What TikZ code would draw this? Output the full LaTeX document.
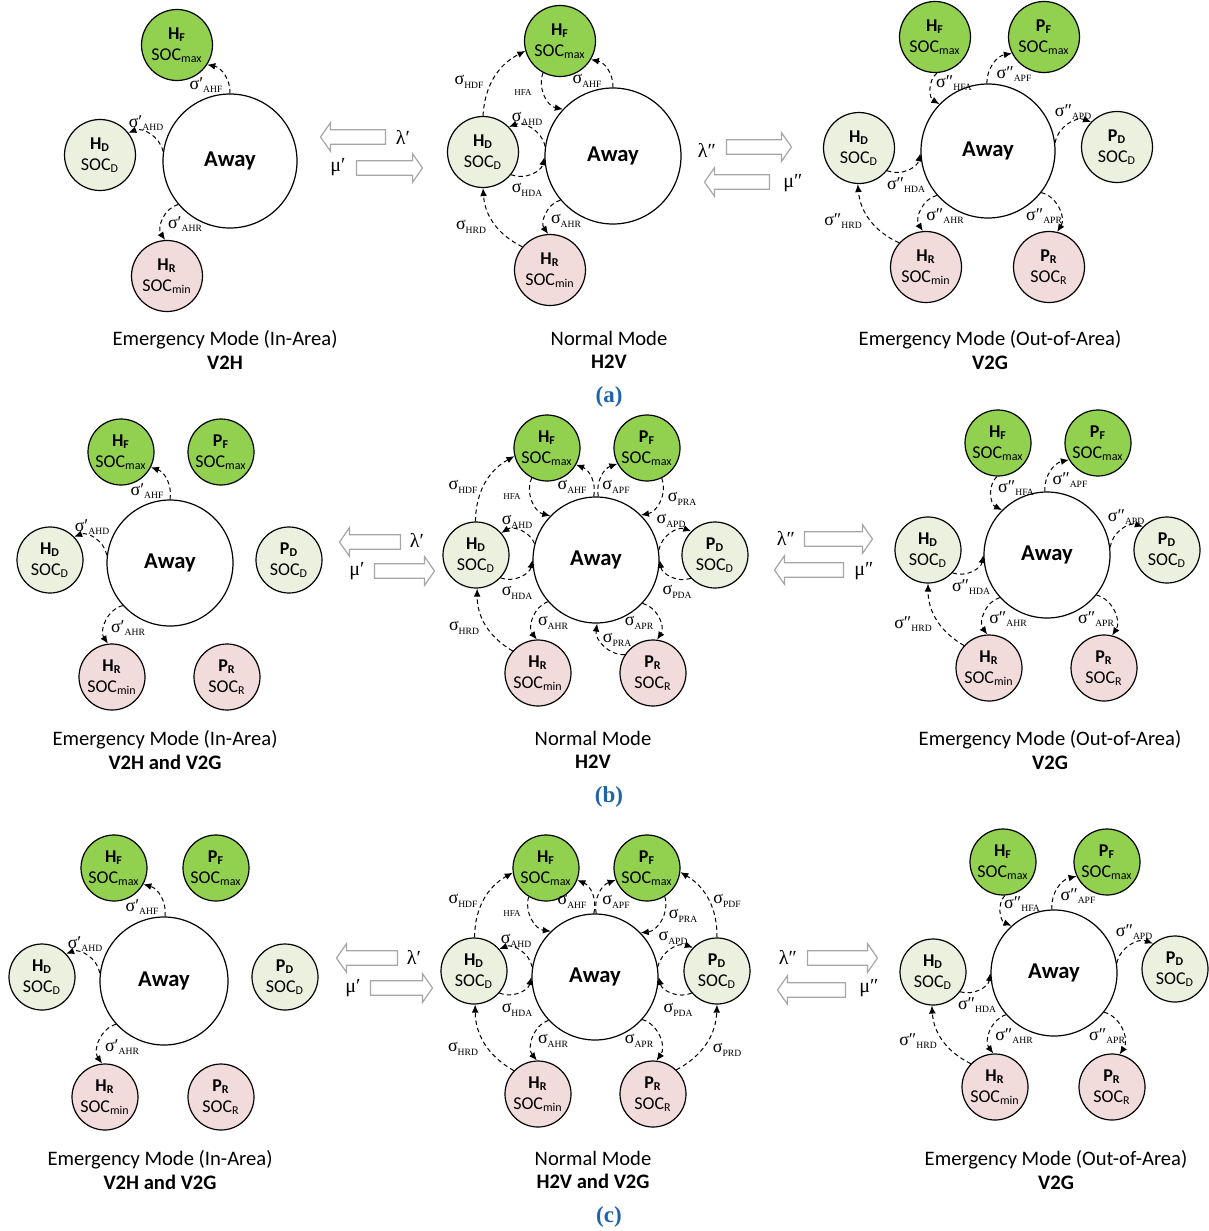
\documentclass[tikz,border=0pt]{standalone}
\usepackage{fontspec}
\setmainfont{Carlito}
\newfontfamily\tnr{Liberation Serif}
\usetikzlibrary{arrows.meta,shapes.arrows}

\definecolor{socgreen}{RGB}{146,208,80}
\definecolor{socpale}{RGB}{235,241,222}
\definecolor{socpink}{RGB}{242,220,219}
\definecolor{capblue}{RGB}{31,100,170}

\newcommand{\rate}[2]{σ#1\raisebox{-0.45ex}{\fontsize{4.8}{5}\selectfont #2}}
\newcommand{\st}[3]{\textbf{#1\textsubscript{#2}}\\SOC\textsubscript{#3}}

\tikzset{
	awaynode/.style={circle, draw, line width=0.6pt, fill=white, inner sep=0pt, font=\fontsize{11.3}{13}\selectfont\bfseries},
	statenode/.style={circle, draw, line width=0.6pt, inner sep=0pt, align=center, font=\fontsize{9}{10.5}\selectfont},
	socfull/.style={statenode, fill=socgreen},
	socpart/.style={statenode, fill=socpale},
	soclow/.style={statenode, fill=socpink},
	rowa/.style={minimum size=35.5pt},
	rowbc/.style={minimum size=33pt},
	flowline/.style={line width=0.5pt, dash pattern=on 2.2pt off 1.6pt, -{Latex[length=4pt,width=3.4pt]}},
	ratelbl/.style={inner sep=0pt, font=\tnr\fontsize{9}{10}\selectfont},
	tinylbl/.style={inner sep=0pt, font=\tnr\fontsize{4.5}{5}\selectfont},
	modelbl/.style={inner sep=0pt, font=\tnr\fontsize{10}{11}\selectfont},
	modearrow/.style={single arrow, draw=black!35, line width=0.6pt, fill=white, inner sep=0pt, inner ysep=3.3pt, single arrow head extend=3.6pt, single arrow tip angle=110},
	caption/.style={align=center, inner sep=0pt, font=\fontsize{10.3}{11.6}\selectfont},
	sublbl/.style={inner sep=0pt, text=capblue, font=\tnr\fontsize{11.5}{12}\selectfont\bfseries}
}

\begin{document}
\begin{tikzpicture}[x=0.5pt,y=-0.5pt]
	\useasboundingbox (0,0) rectangle (1209,1231);

	% (a) emergency, in-area
	\node[awaynode, minimum size=67pt] (a1aw) at (230,161) {Away};
	\node[socfull,rowa] (a1hf) at (177,45) {\st{H}{F}{max}};
	\node[socpart,rowa] (a1hd) at (100,155) {\st{H}{D}{D}};
	\node[soclow,rowa] (a1hr) at (167,276) {\st{H}{R}{min}};
	\draw[flowline] (a1aw.90) to[bend right=40] (a1hf.-33);
	\draw[flowline] (a1aw.172) to[bend right=50] (a1hd.38);
	\draw[flowline] (a1aw.-140) to[bend right=55] (a1hr.93);
	\node[ratelbl] (a1l1) at (206,85) {\rate{′}{AHF}};
	\node[ratelbl] (a1l2) at (146,123) {\rate{′}{AHD}};
	\node[ratelbl] (a1l3) at (185,224) {\rate{′}{AHR}};
	\node[caption] (a1cap) at (225,350) {Emergency Mode (In-Area)\\\textbf{V2H}};

	% (a) normal
	\node[awaynode, minimum size=68pt] (a2aw) at (613,156) {Away};
	\node[socfull,rowa] (a2hf) at (560,41) {\st{H}{F}{max}};
	\node[socpart,rowa] (a2hd) at (483,152) {\st{H}{D}{D}};
	\node[soclow,rowa] (a2hr) at (550,270) {\st{H}{R}{min}};
	\draw[flowline] (a2hd.90) to[bend left=30] (a2hf.196);
	\draw[flowline] (a2hf.-118) to[bend right=50] (a2aw.137);
	\draw[flowline] (a2aw.90) to[bend right=40] (a2hf.-31);
	\draw[flowline] (a2aw.172) to[bend right=50] (a2hd.44);
	\draw[flowline] (a2hd.-39) to[bend right=50] (a2aw.181);
	\draw[flowline] (a2hr.140) to[bend left=30] (a2hd.-90);
	\draw[flowline] (a2aw.-140) to[bend right=55] (a2hr.93);
	\node[ratelbl] (a2l1) at (469,82) {\rate{}{HDF}};
	\node[tinylbl] (a2l2) at (523,93) {HFA};
	\node[ratelbl] (a2l3) at (587,81) {\rate{}{AHF}};
	\node[ratelbl] (a2l4) at (527,119) {\rate{}{AHD}};
	\node[ratelbl] (a2l5) at (527,190) {\rate{}{HDA}};
	\node[ratelbl] (a2l6) at (471,227) {\rate{}{HRD}};
	\node[ratelbl] (a2l7) at (566,221) {\rate{}{AHR}};
	\node[caption] (a2cap) at (609,350) {Normal Mode\\\textbf{H2V}};

	% (a) emergency, out-of-area
	\node[awaynode, minimum size=67pt] (a3aw) at (988,151) {Away};
	\node[socfull,rowa] (a3hf) at (935,37) {\st{H}{F}{max}};
	\node[socfull,rowa] (a3pf) at (1044,37) {\st{P}{F}{max}};
	\node[socpart,rowa] (a3hd) at (859,148) {\st{H}{D}{D}};
	\node[socpart,rowa] (a3pd) at (1117,147) {\st{P}{D}{D}};
	\node[soclow,rowa] (a3hr) at (926,267) {\st{H}{R}{min}};
	\node[soclow,rowa] (a3pr) at (1049,267) {\st{P}{R}{R}};
	\draw[flowline] (a3hf.-87) to[bend right=55] (a3aw.136);
	\draw[flowline] (a3aw.91) to[bend left=40] (a3pf.207);
	\draw[flowline] (a3aw.7) to[bend left=50] (a3pd.136);
	\draw[flowline] (a3hd.-39) to[bend right=50] (a3aw.182);
	\draw[flowline] (a3hr.138) to[bend left=30] (a3hd.-92);
	\draw[flowline] (a3aw.-139) to[bend right=55] (a3hr.95);
	\draw[flowline] (a3aw.-38) to[bend left=55] (a3pr.77);
	\node[ratelbl] (a3l1) at (954,83) {\rate{″}{HFA}};
	\node[ratelbl] (a3l2) at (1014,74) {\rate{″}{APF}};
	\node[ratelbl] (a3l3) at (1073,112) {\rate{″}{APD}};
	\node[ratelbl] (a3l4) at (906,185) {\rate{″}{HDA}};
	\node[ratelbl] (a3l5) at (843,221) {\rate{″}{HRD}};
	\node[ratelbl] (a3l6) at (945,216) {\rate{″}{AHR}};
	\node[ratelbl] (a3l7) at (1044,216) {\rate{″}{APR}};
	\node[caption] (a3cap) at (990,350) {Emergency Mode (Out-of-Area)\\\textbf{V2G}};

	% mode changes (a)
	\node[modearrow, shape border rotate=180, minimum height=32.5pt] (a12back) at (355.5,137) {};
	\node[modearrow, minimum height=33pt] (a12fwd) at (387,168) {};
	\node[modelbl] (a12lam) at (403,137) {λ′};
	\node[modelbl] (a12mu) at (338,167) {μ′};
	\node[modearrow, minimum height=32.5pt] (a23fwd) at (756.5,147) {};
	\node[modearrow, shape border rotate=180, minimum height=32.5pt] (a23back) at (739.5,182) {};
	\node[modelbl] (a23lam) at (707,150) {λ″};
	\node[modelbl] (a23mu) at (793,183) {μ″};
	\node[sublbl] (capa) at (609,397) {(a)};

	% (b) emergency, in-area
	\node[awaynode, minimum size=63pt] (b1aw) at (170,563) {Away};
	\node[socfull,rowbc] (b1hf) at (121,452) {\st{H}{F}{max}};
	\node[socfull,rowbc] (b1pf) at (221,452) {\st{P}{F}{max}};
	\node[socpart,rowbc] (b1hd) at (50,560) {\st{H}{D}{D}};
	\node[socpart,rowbc] (b1pd) at (289,560) {\st{P}{D}{D}};
	\node[soclow,rowbc] (b1hr) at (112,677) {\st{H}{R}{min}};
	\node[soclow,rowbc] (b1pr) at (227,677) {\st{P}{R}{R}};
	\draw[flowline] (b1aw.90) to[bend right=40] (b1hf.-27);
	\draw[flowline] (b1aw.173) to[bend right=50] (b1hd.44);
	\draw[flowline] (b1aw.-138) to[bend right=55] (b1hr.97);
	\node[ratelbl] (b1l1) at (147,491) {\rate{′}{AHF}};
	\node[ratelbl] (b1l2) at (92,527) {\rate{′}{AHD}};
	\node[ratelbl] (b1l3) at (128,628) {\rate{′}{AHR}};
	\node[caption] (b1cap) at (165,750) {Emergency Mode (In-Area)\\\textbf{V2H and V2G}};

	% (b) normal
	\node[awaynode, minimum size=63pt] (b2aw) at (596,560) {Away};
	\node[socfull,rowbc] (b2hf) at (547,448) {\st{H}{F}{max}};
	\node[socfull,rowbc] (b2pf) at (647,448) {\st{P}{F}{max}};
	\node[socpart,rowbc] (b2hd) at (476,555) {\st{H}{D}{D}};
	\node[socpart,rowbc] (b2pd) at (715,555) {\st{P}{D}{D}};
	\node[soclow,rowbc] (b2hr) at (538,673) {\st{H}{R}{min}};
	\node[soclow,rowbc] (b2pr) at (653,673) {\st{P}{R}{R}};
	\draw[flowline] (b2hd.91) to[bend left=30] (b2hf.194);
	\draw[flowline] (b2hf.-117) to[bend right=50] (b2aw.136);
	\draw[flowline] (b2aw.92) to[bend right=40] (b2hf.-30);
	\draw[flowline] (b2aw.88) to[bend left=40] (b2pf.208);
	\draw[flowline] (b2pf.-64) to[bend left=50] (b2aw.45);
	\draw[flowline] (b2aw.165) to[bend right=50] (b2hd.41);
	\draw[flowline] (b2hd.-43) to[bend right=50] (b2aw.180);
	\draw[flowline] (b2aw.9) to[bend left=50] (b2pd.135);
	\draw[flowline] (b2pd.-136) to[bend left=50] (b2aw.0);
	\draw[flowline] (b2hr.139) to[bend left=30] (b2hd.-88);
	\draw[flowline] (b2aw.-139) to[bend right=55] (b2hr.92);
	\draw[flowline] (b2aw.-43) to[bend left=55] (b2pr.83);
	\draw[flowline] (b2pr.147) to[bend left=50] (b2aw.-89);
	\node[ratelbl] (b2l1) at (463,487) {\rate{}{HDF}};
	\node[tinylbl] (b2l2) at (512,497) {HFA};
	\node[ratelbl] (b2l3) at (572,487) {\rate{}{AHF}};
	\node[ratelbl] (b2l4) at (616,487) {\rate{}{APF}};
	\node[ratelbl] (b2l5) at (682,499) {\rate{}{PRA}};
	\node[ratelbl] (b2l6) at (517,522) {\rate{}{AHD}};
	\node[ratelbl] (b2l7) at (517,593) {\rate{}{HDA}};
	\node[ratelbl] (b2l8) at (671,521) {\rate{}{APD}};
	\node[ratelbl] (b2l9) at (677,592) {\rate{}{PDA}};
	\node[ratelbl] (b2l10) at (464,628) {\rate{}{HRD}};
	\node[ratelbl] (b2l11) at (553,623) {\rate{}{AHR}};
	\node[ratelbl] (b2l12) at (639,623) {\rate{}{APR}};
	\node[ratelbl] (b2l13) at (617,640) {\rate{}{PRA}};
	\node[caption] (b2cap) at (593,750) {Normal Mode\\\textbf{H2V}};

	% (b) emergency, out-of-area
	\node[awaynode, minimum size=63pt] (b3aw) at (1047,555) {Away};
	\node[socfull,rowbc] (b3hf) at (998,443) {\st{H}{F}{max}};
	\node[socfull,rowbc] (b3pf) at (1098,443) {\st{P}{F}{max}};
	\node[socpart,rowbc] (b3hd) at (928,550) {\st{H}{D}{D}};
	\node[socpart,rowbc] (b3pd) at (1167,550) {\st{P}{D}{D}};
	\node[soclow,rowbc] (b3hr) at (989,668) {\st{H}{R}{min}};
	\node[soclow,rowbc] (b3pr) at (1104,668) {\st{P}{R}{R}};
	\draw[flowline] (b3hf.-92) to[bend right=55] (b3aw.135);
	\draw[flowline] (b3aw.92) to[bend left=40] (b3pf.210);
	\draw[flowline] (b3aw.7) to[bend left=50] (b3pd.136);
	\draw[flowline] (b3hd.-43) to[bend right=50] (b3aw.180);
	\draw[flowline] (b3hr.138) to[bend left=30] (b3hd.-90);
	\draw[flowline] (b3aw.-138) to[bend right=55] (b3hr.93);
	\draw[flowline] (b3aw.-39) to[bend left=55] (b3pr.76);
	\node[ratelbl] (b3l1) at (1016,488) {\rate{″}{HFA}};
	\node[ratelbl] (b3l2) at (1070,480) {\rate{″}{APF}};
	\node[ratelbl] (b3l3) at (1126,517) {\rate{″}{APD}};
	\node[ratelbl] (b3l4) at (971,587) {\rate{″}{HDA}};
	\node[ratelbl] (b3l5) at (913,624) {\rate{″}{HRD}};
	\node[ratelbl] (b3l6) at (1008,619) {\rate{″}{AHR}};
	\node[ratelbl] (b3l7) at (1096,619) {\rate{″}{APR}};
	\node[caption] (b3cap) at (1050,750) {Emergency Mode (Out-of-Area)\\\textbf{V2G}};

	% mode changes (b)
	\node[modearrow, shape border rotate=180, minimum height=30.5pt] (b12back) at (372.5,542) {};
	\node[modearrow, minimum height=30pt] (b12fwd) at (402,571) {};
	\node[modelbl] (b12lam) at (417,540) {λ′};
	\node[modelbl] (b12mu) at (357,571) {μ′};
	\node[modearrow, minimum height=34pt] (b23fwd) at (836,539) {};
	\node[modearrow, shape border rotate=180, minimum height=34.5pt] (b23back) at (811.5,570) {};
	\node[modelbl] (b23lam) at (786,538) {λ″};
	\node[modelbl] (b23mu) at (864,571) {μ″};
	\node[sublbl] (capb) at (609,797) {(b)};

	% (c) emergency, in-area
	\node[awaynode, minimum size=64pt] (c1aw) at (164,981) {Away};
	\node[socfull,rowbc] (c1hf) at (114,868) {\st{H}{F}{max}};
	\node[socfull,rowbc] (c1pf) at (216,868) {\st{P}{F}{max}};
	\node[socpart,rowbc] (c1hd) at (42,977) {\st{H}{D}{D}};
	\node[socpart,rowbc] (c1pd) at (285,977) {\st{P}{D}{D}};
	\node[soclow,rowbc] (c1hr) at (105,1097) {\st{H}{R}{min}};
	\node[soclow,rowbc] (c1pr) at (221,1097) {\st{P}{R}{R}};
	\draw[flowline] (c1aw.89) to[bend right=40] (c1hf.-29);
	\draw[flowline] (c1aw.173) to[bend right=50] (c1hd.44);
	\draw[flowline] (c1aw.-138) to[bend right=55] (c1hr.95);
	\node[ratelbl] (c1l1) at (142,907) {\rate{′}{AHF}};
	\node[ratelbl] (c1l2) at (85,944) {\rate{′}{AHD}};
	\node[ratelbl] (c1l3) at (122,1047) {\rate{′}{AHR}};
	\node[caption] (c1cap) at (160,1170) {Emergency Mode (In-Area)\\\textbf{V2H and V2G}};

	% (c) normal
	\node[awaynode, minimum size=63pt] (c2aw) at (595,977) {Away};
	\node[socfull,rowbc] (c2hf) at (546,868) {\st{H}{F}{max}};
	\node[socfull,rowbc] (c2pf) at (647,868) {\st{P}{F}{max}};
	\node[socpart,rowbc] (c2hd) at (474,971) {\st{H}{D}{D}};
	\node[socpart,rowbc] (c2pd) at (717,971) {\st{P}{D}{D}};
	\node[soclow,rowbc] (c2hr) at (538,1094) {\st{H}{R}{min}};
	\node[soclow,rowbc] (c2pr) at (653,1094) {\st{P}{R}{R}};
	\draw[flowline] (c2hd.89) to[bend left=30] (c2hf.188);
	\draw[flowline] (c2hf.-121) to[bend right=50] (c2aw.134);
	\draw[flowline] (c2aw.91) to[bend right=40] (c2hf.-21);
	\draw[flowline] (c2aw.89) to[bend left=40] (c2pf.201);
	\draw[flowline] (c2pf.-58) to[bend left=50] (c2aw.44);
	\draw[flowline] (c2pd.90) to[bend right=30] (c2pf.-7);
	\draw[flowline] (c2aw.171) to[bend right=50] (c2hd.41);
	\draw[flowline] (c2hd.-41) to[bend right=50] (c2aw.180);
	\draw[flowline] (c2aw.9) to[bend left=50] (c2pd.136);
	\draw[flowline] (c2pd.-139) to[bend left=50] (c2aw.0);
	\draw[flowline] (c2hr.136) to[bend left=30] (c2hd.-88);
	\draw[flowline] (c2aw.-137) to[bend right=55] (c2hr.92);
	\draw[flowline] (c2aw.-42) to[bend left=55] (c2pr.84);
	\draw[flowline] (c2pr.46) to[bend right=30] (c2pd.-90);
	\node[ratelbl] (c2l1) at (463,901) {\rate{}{HDF}};
	\node[tinylbl] (c2l2) at (512,914) {HFA};
	\node[ratelbl] (c2l3) at (572,902) {\rate{}{AHF}};
	\node[ratelbl] (c2l4) at (616,902) {\rate{}{APF}};
	\node[ratelbl] (c2l5) at (683,916) {\rate{}{PRA}};
	\node[ratelbl] (c2l6) at (727,901) {\rate{}{PDF}};
	\node[ratelbl] (c2l7) at (516,941) {\rate{}{AHD}};
	\node[ratelbl] (c2l8) at (517,1010) {\rate{}{HDA}};
	\node[ratelbl] (c2l9) at (673,938) {\rate{}{APD}};
	\node[ratelbl] (c2l10) at (678,1010) {\rate{}{PDA}};
	\node[ratelbl] (c2l11) at (463,1049) {\rate{}{HRD}};
	\node[ratelbl] (c2l12) at (553,1041) {\rate{}{AHR}};
	\node[ratelbl] (c2l13) at (639,1041) {\rate{}{APR}};
	\node[ratelbl] (c2l14) at (727,1050) {\rate{}{PRD}};
	\node[caption] (c2cap) at (593,1170) {Normal Mode\\\textbf{H2V and V2G}};

	% (c) emergency, out-of-area
	\node[awaynode, minimum size=63pt] (c3aw) at (1054,973) {Away};
	\node[socfull,rowbc] (c3hf) at (1003,862) {\st{H}{F}{max}};
	\node[socfull,rowbc] (c3pf) at (1107,862) {\st{P}{F}{max}};
	\node[socpart,rowbc] (c3hd) at (933,972) {\st{H}{D}{D}};
	\node[socpart,rowbc] (c3pd) at (1175,969) {\st{P}{D}{D}};
	\node[soclow,rowbc] (c3hr) at (995,1087) {\st{H}{R}{min}};
	\node[soclow,rowbc] (c3pr) at (1112,1087) {\st{P}{R}{R}};
	\draw[flowline] (c3hf.-87) to[bend right=55] (c3aw.132);
	\draw[flowline] (c3aw.92) to[bend left=40] (c3pf.205);
	\draw[flowline] (c3aw.9) to[bend left=50] (c3pd.131);
	\draw[flowline] (c3hd.-36) to[bend right=50] (c3aw.180);
	\draw[flowline] (c3hr.136) to[bend left=30] (c3hd.-92);
	\draw[flowline] (c3aw.-139) to[bend right=55] (c3hr.93);
	\draw[flowline] (c3aw.-38) to[bend left=55] (c3pr.77);
	\node[ratelbl] (c3l1) at (1022,904) {\rate{″}{HFA}};
	\node[ratelbl] (c3l2) at (1078,896) {\rate{″}{APF}};
	\node[ratelbl] (c3l3) at (1134,932) {\rate{″}{APD}};
	\node[ratelbl] (c3l4) at (977,1005) {\rate{″}{HDA}};
	\node[ratelbl] (c3l5) at (918,1041) {\rate{″}{HRD}};
	\node[ratelbl] (c3l6) at (1014,1036) {\rate{″}{AHR}};
	\node[ratelbl] (c3l7) at (1107,1036) {\rate{″}{APR}};
	\node[caption] (c3cap) at (1056,1170) {Emergency Mode (Out-of-Area)\\\textbf{V2G}};

	% mode changes (c)
	\node[modearrow, shape border rotate=180, minimum height=30.5pt] (c12back) at (369.5,958) {};
	\node[modearrow, minimum height=31pt] (c12fwd) at (399,988) {};
	\node[modelbl] (c12lam) at (414,957) {λ′};
	\node[modelbl] (c12mu) at (353,988) {μ′};
	\node[modearrow, minimum height=35pt] (c23fwd) at (840,958) {};
	\node[modearrow, shape border rotate=180, minimum height=34pt] (c23back) at (814,990) {};
	\node[modelbl] (c23lam) at (788,957) {λ″};
	\node[modelbl] (c23mu) at (869,988) {μ″};
	\node[sublbl] (capc) at (609,1217) {(c)};
\end{tikzpicture}
\end{document}
